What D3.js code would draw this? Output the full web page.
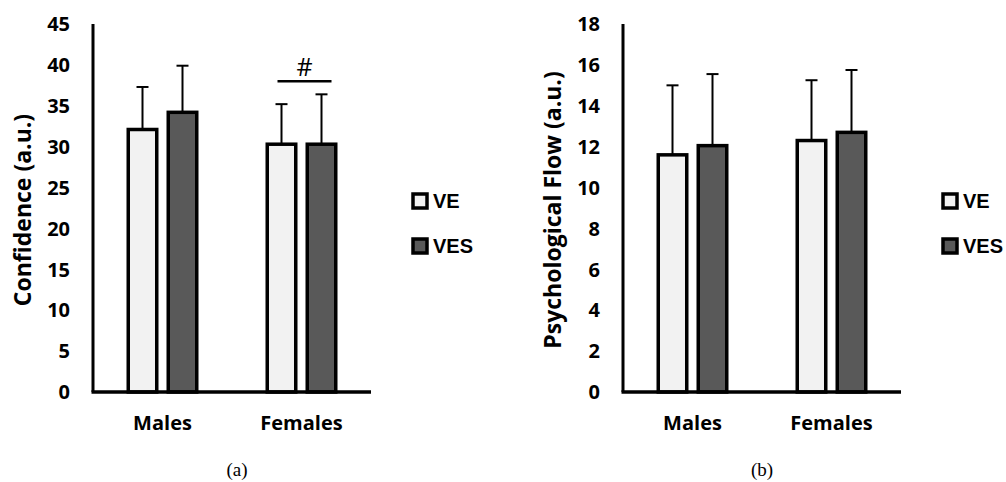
<!DOCTYPE html>
<html>
<head>
<meta charset="utf-8">
<script src="https://cdn.jsdelivr.net/npm/d3@7"></script>
<style>
  body { margin: 0; background: #fff; }
  .tick-lbl { font-family: "Open Sans", sans-serif; font-weight: bold; font-size: 20px; }
  .cat-lbl { font-family: "Open Sans", sans-serif; font-weight: bold; font-size: 20px; }
  .ax-title { font-family: "Open Sans", sans-serif; font-weight: bold; font-size: 23px; }
  .leg-lbl { font-family: "Liberation Sans", Arial, sans-serif; font-weight: bold; font-size: 20px; }
  .caption { font-family: "Liberation Serif", serif; font-size: 19px; }
</style>
</head>
<body>
<svg width="1006" height="482"></svg>
<script>
var groups = ["Males", "Females"];
var series = ["VE", "VES"];
var colors = ["#f2f2f2", "#595959"];

// panel (a): confidence
var confVE = [32.1, 30.3];
var confVES = [34.2, 30.3];
var confVEsd = [5.2, 4.9];
var confVESsd = [5.7, 6.1];
var confTicks = [0, 5, 10, 15, 20, 25, 30, 35, 40, 45];

// panel (b): psychological flow
var flowVE = [11.6, 12.3];
var flowVES = [12.05, 12.7];
var flowVEsd = [3.4, 2.95];
var flowVESsd = [3.5, 3.05];
var flowTicks = [0, 2, 4, 6, 8, 10, 12, 14, 16, 18];

var svg = d3.select("svg");
var stroke = 3.5;

function drawPanel(left, means, sds, ticks, title, caption, hash) {
	var width = 278, top = 24, bottom = 392;
	var g = svg.append("g").attr("transform", "translate(" + left + ",0)");

	var y = d3.scaleLinear()
		.domain([0, ticks[ticks.length - 1]])
		.range([bottom, top]);

	var x0 = d3.scaleBand().domain(groups).range([0, width]);
	var x1 = d3.scaleBand().domain(series)
		.range([x0.bandwidth() / 2 - 36, x0.bandwidth() / 2 + 36])
		.paddingInner(0.2);

	// tick labels (no tick marks)
	g.selectAll(".tick-lbl")
		.data(ticks)
		.enter().append("text")
		.attr("class", "tick-lbl")
		.attr("x", -23)
		.attr("y", function(d) { return y(d); })
		.attr("dy", "0.36em")
		.attr("text-anchor", "end")
		.text(function(d) { return d; });

	// flatten into bars
	var bars = [];
	groups.forEach(function(grp, gi) {
		series.forEach(function(s, si) {
			bars.push({ group: grp, series: s, si: si, value: means[si][gi], sd: sds[si][gi] });
		});
	});

	// error bars (upper only)
	var eb = g.selectAll(".err")
		.data(bars)
		.enter().append("g")
		.attr("class", "err");
	eb.append("line")
		.attr("x1", function(d) { return x0(d.group) + x1(d.series) + x1.bandwidth() / 2; })
		.attr("x2", function(d) { return x0(d.group) + x1(d.series) + x1.bandwidth() / 2; })
		.attr("y1", function(d) { return y(d.value); })
		.attr("y2", function(d) { return y(d.value + d.sd); })
		.attr("stroke", "#000")
		.attr("stroke-width", 2);
	eb.append("line")
		.attr("x1", function(d) { return x0(d.group) + x1(d.series) + x1.bandwidth() / 2 - 6; })
		.attr("x2", function(d) { return x0(d.group) + x1(d.series) + x1.bandwidth() / 2 + 6; })
		.attr("y1", function(d) { return y(d.value + d.sd); })
		.attr("y2", function(d) { return y(d.value + d.sd); })
		.attr("stroke", "#000")
		.attr("stroke-width", 2);

	// bars
	g.selectAll(".bar")
		.data(bars)
		.enter().append("rect")
		.attr("class", "bar")
		.attr("x", function(d) { return x0(d.group) + x1(d.series) + stroke / 2; })
		.attr("y", function(d) { return y(d.value); })
		.attr("width", x1.bandwidth() - stroke)
		.attr("height", function(d) { return y(0) - y(d.value); })
		.attr("fill", function(d) { return colors[d.si]; })
		.attr("stroke", "#000")
		.attr("stroke-width", stroke);

	// axes lines
	g.append("line")
		.attr("x1", 0).attr("x2", 0)
		.attr("y1", top).attr("y2", bottom)
		.attr("stroke", "#000").attr("stroke-width", 3);
	g.append("line")
		.attr("x1", -1.5).attr("x2", width)
		.attr("y1", bottom).attr("y2", bottom)
		.attr("stroke", "#000").attr("stroke-width", 3.5);

	// category labels
	g.selectAll(".cat-lbl")
		.data(groups)
		.enter().append("text")
		.attr("class", "cat-lbl")
		.attr("x", function(d) { return x0(d) + x0.bandwidth() / 2; })
		.attr("y", 430)
		.attr("text-anchor", "middle")
		.text(function(d) { return d; });

	// axis title
	g.append("text")
		.attr("class", "ax-title")
		.attr("transform", "translate(-62,210) rotate(-90)")
		.attr("text-anchor", "middle")
		.text(title);

	// legend
	var leg = g.selectAll(".leg")
		.data(series)
		.enter().append("g")
		.attr("class", "leg")
		.attr("transform", function(d, i) { return "translate(320," + (194 + i * 45) + ")"; });
	leg.append("rect")
		.attr("width", 14).attr("height", 14)
		.attr("fill", function(d, i) { return colors[i]; })
		.attr("stroke", "#000")
		.attr("stroke-width", 3.5);
	leg.append("text")
		.attr("class", "leg-lbl")
		.attr("x", 20)
		.attr("y", 7)
		.attr("dy", "0.36em")
		.text(function(d) { return d; });

	// caption
	g.append("text")
		.attr("class", "caption")
		.attr("x", caption.x)
		.attr("y", 476)
		.attr("text-anchor", "middle")
		.text(caption.text);

	// significance mark
	if (hash) {
		var hx = x0(hash.group) + x0.bandwidth() / 2 + 3;
		g.append("line")
			.attr("x1", hx - 27).attr("x2", hx + 27)
			.attr("y1", y(hash.level)).attr("y2", y(hash.level))
			.attr("stroke", "#000").attr("stroke-width", 2.5);
		g.append("text")
			.attr("x", hx)
			.attr("y", y(hash.level) - 5)
			.attr("text-anchor", "middle")
			.style("font-family", "Open Sans, sans-serif")
			.style("font-size", "25px")
			.text("#");
	}
}

drawPanel(93, [confVE, confVES], [confVEsd, confVESsd], confTicks,
	"Confidence (a.u.)", { x: 144, text: "(a)" }, { group: "Females", level: 38.0 });
drawPanel(623, [flowVE, flowVES], [flowVEsd, flowVESsd], flowTicks,
	"Psychological Flow (a.u.)", { x: 139, text: "(b)" }, null);
</script>
</body>
</html>
